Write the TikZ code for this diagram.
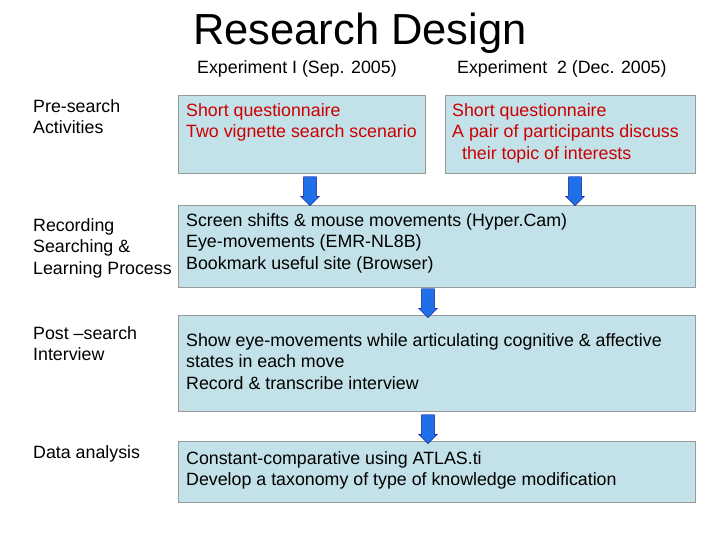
\documentclass[tikz,border=0pt]{standalone}
\usepackage{fontspec}
\setmainfont{Liberation Sans}
\usetikzlibrary{shapes.arrows}
\definecolor{boxfill}{HTML}{C3E1E8}
\definecolor{arrblue}{HTML}{1F6FE8}
\begin{document}
\begin{tikzpicture}[x=1pt,y=-1pt,
  box/.style={draw=gray!80,fill=boxfill,line width=0.6pt},
  txt/.style={anchor=north west,align=left,inner sep=0pt,font=\fontsize{17.8}{21.5}\selectfont},
  barrow/.style={single arrow,draw=blue!50!black,fill=arrblue,inner sep=6pt,minimum width=19pt,single arrow head extend=3pt,minimum height=29pt,rotate=-90}]
\useasboundingbox (0,0) rectangle (720,540);
\node (title) at (360,33) {\fontsize{43.5}{48}\selectfont Research Design};
\node[txt] (e1) at (197,60) {Experiment I (Sep. 2005)};
\node[txt] (e2) at (457,60) {Experiment\ \ 2 (Dec. 2005)};
\path[box] (178,95) rectangle (425,173);
\path[box] (445,95) rectangle (695,173);
\path[box] (178,205) rectangle (695,287);
\path[box] (178,315) rectangle (695,411);
\path[box] (178,441) rectangle (695,502);
\node[txt] (l1) at (33,99) {Pre-search\\Activities};
\node[txt] (l2) at (33,218) {Recording\\Searching \&\\Learning Process};
\node[txt] (l3) at (33,326) {Post --search\\Interview};
\node[txt] (l4) at (33,445) {Data analysis};
\node[txt,text=red!80!black] (t1) at (186,103) {Short questionnaire\\Two vignette search scenario};
\node[txt,text=red!80!black] (t2) at (452,103) {Short questionnaire\\A pair of participants discuss\\\ \ their topic of interests};
\node[txt] (t3) at (186,213) {Screen shifts \& mouse movements (Hyper.Cam)\\Eye-movements (EMR-NL8B)\\Bookmark useful site (Browser)};
\node[txt] (t4) at (186,333) {Show eye-movements while articulating cognitive \& affective\\states in each move\\Record \& transcribe interview};
\node[txt] (t5) at (186,451) {Constant-comparative using ATLAS.ti\\Develop a taxonomy of type of knowledge modification};
\node[barrow] (a1) at (310,188) {};
\node[barrow] (a2) at (575,188) {};
\node[barrow] (a3) at (428,300) {};
\node[barrow] (a4) at (428,426) {};
\end{tikzpicture}
\end{document}
